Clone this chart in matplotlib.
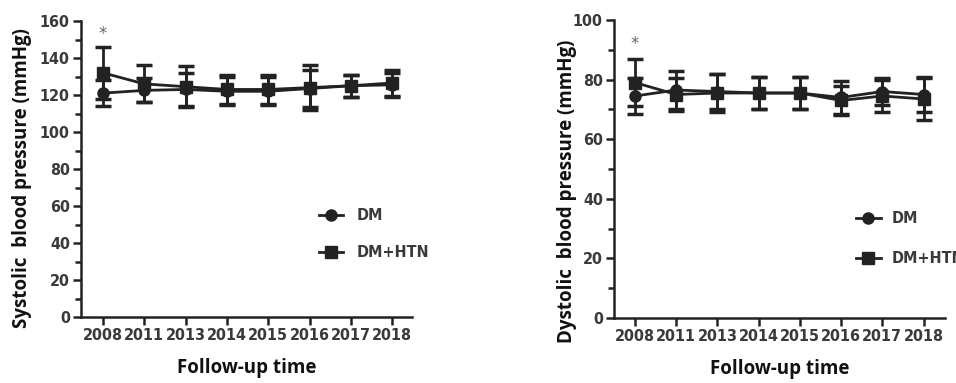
import matplotlib
matplotlib.use("Agg")
import matplotlib.pyplot as plt
from matplotlib.ticker import MultipleLocator
from matplotlib import font_manager as fm

years = ["2008", "2011", "2013", "2014", "2015", "2016", "2017", "2018"]

sys_dm = [121, 122.5, 123, 122, 122, 123.5, 125, 125.5]
sys_dm_err = [7, 6.5, 9, 7.5, 7.5, 10, 6, 6.5]
sys_htn = [132, 126, 124.5, 123, 123, 124, 125, 126.5]
sys_htn_err = [14, 10, 11, 8, 8, 12, 6, 7]

dia_dm = [74.5, 76.5, 76, 75.5, 75.5, 74, 76, 75]
dia_dm_err = [6, 6.5, 6, 5.5, 5.5, 5.5, 4.5, 6]
dia_htn = [79, 75, 75.5, 75.5, 75.5, 73, 74.5, 73.5]
dia_htn_err = [8, 5.5, 6.5, 5.5, 5.5, 5, 5.5, 7]

legend_labels = ["DM", "DM+HTN"]

C = "#222222"
names = {f.name for f in fm.fontManager.ttflist}
if "Liberation Sans Narrow" in names:
    NARROW = dict(fontfamily="Liberation Sans Narrow", fontweight="bold")
    TICKSZ = 13
else:
    NARROW = dict(fontfamily="DejaVu Sans", fontweight="bold", fontstretch="condensed")
    TICKSZ = 11.5
LABF = ["Open Sans", "DejaVu Sans"]

fig = plt.figure(figsize=(9.56, 3.83), dpi=100)
W, H = 956, 383

def make_ax(left_px, right_px, bottom_px, top_px, xl, xr):
    ax = fig.add_axes([left_px / W, 1 - bottom_px / H, (right_px - left_px) / W, (bottom_px - top_px) / H])
    ax.set_xlim(xl, xr)
    return ax

def draw(ax, dm, dme, htn, hte, ymax, major, minor, ylabel, star_y, leg, ylc):
    x = list(range(len(years)))
    ax.errorbar(x, htn, yerr=hte, color=C, marker="s", ms=8, lw=2, capsize=6, capthick=2.5, elinewidth=2)
    ax.errorbar(x, dm, yerr=dme, color=C, marker="o", ms=8, lw=2, capsize=6, capthick=2.5, elinewidth=2)
    ax.set_ylim(0, ymax)
    ax.yaxis.set_major_locator(MultipleLocator(major))
    ax.yaxis.set_minor_locator(MultipleLocator(minor))
    ax.set_xticks(x)
    ax.set_xticklabels(years, fontsize=TICKSZ, color="#3a3a3a", **NARROW)
    for lab in ax.get_yticklabels():
        lab.set(fontsize=TICKSZ, color="#3a3a3a", **NARROW)
    for s in ["top", "right"]:
        ax.spines[s].set_visible(False)
    for s in ["left", "bottom"]:
        ax.spines[s].set_linewidth(1.8)
        ax.spines[s].set_color(C)
    ax.tick_params(which="major", length=6, width=1.8, color=C, pad=2)
    ax.tick_params(which="minor", length=4, width=1.8, color=C)
    ax.tick_params(axis="x", which="minor", bottom=False)
    ax.set_ylabel(ylabel, fontfamily=LABF, fontweight="bold", fontsize=13.5, color="#111111")
    ax.yaxis.set_label_coords(*ylc)
    ax.set_xlabel("Follow-up time", fontfamily=LABF, fontweight="bold", fontsize=13.5, color="#111111", labelpad=11)
    ax.text(0, star_y, "*", ha="center", va="center", fontsize=12, color="#666666")
    ax.patch.set_alpha(0)
    lx0, lx1, tx, y1, y2 = leg
    for yy, mk, lab in [(y1, "o", legend_labels[0]), (y2, "s", legend_labels[1])]:
        ax.plot([lx0, lx1], [yy, yy], color=C, lw=2, clip_on=False)
        ax.plot([(lx0 + lx1) / 2], [yy], color=C, marker=mk, ms=8, clip_on=False)
        ax.text(tx, yy, lab, fontsize=TICKSZ, color="#3a3a3a", va="center", ha="left", clip_on=False, **NARROW)

ax1 = make_ax(81, 412, 317, 21, -0.53, 7.48)
draw(ax1, sys_dm, sys_dm_err, sys_htn, sys_htn_err, 160, 20, 10,
     "Systolic  blood pressure (mmHg)", 153, (5.22, 5.8, 6.15, 55, 35), (-0.148, 0.47))

ax2 = make_ax(614, 945, 318, 20, -0.51, 7.52)
draw(ax2, dia_dm, dia_dm_err, dia_htn, dia_htn_err, 100, 20, 10,
     "Dystolic  blood pressure (mmHg)", 92, (5.35, 5.96, 6.22, 33.5, 20), (-0.112, 0.426))

fig.savefig("out.png", dpi=100)
